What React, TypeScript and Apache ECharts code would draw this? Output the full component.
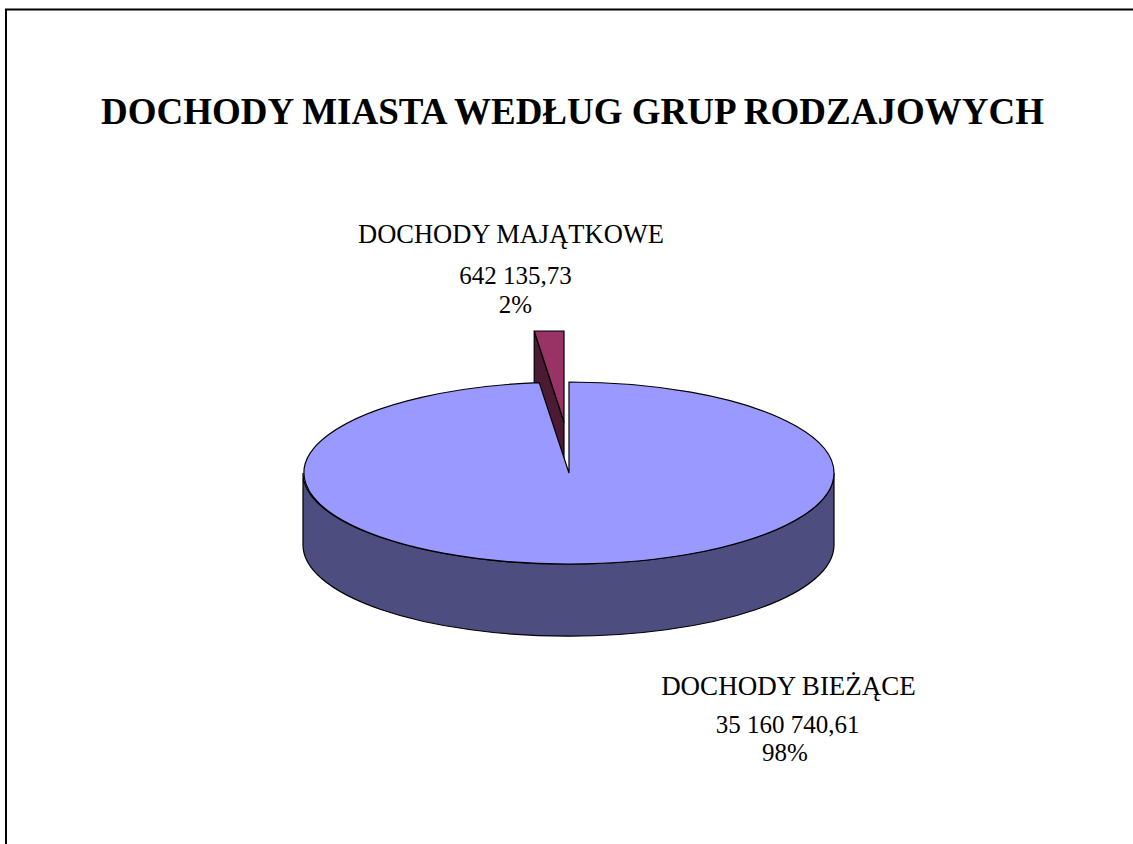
import React, { useEffect, useRef } from "react";
import * as echarts from "echarts";

const title = "DOCHODY MIASTA WEDŁUG GRUP RODZAJOWYCH";
const categories = ["DOCHODY MAJĄTKOWE", "DOCHODY BIEŻĄCE"];
const values = [642135.73, 35160740.61];
const valueLabels = ["642 135,73", "35 160 740,61"];
const percentLabels = ["2%", "98%"];

const CX = 569, CY = 473, RX = 265, RY = 91, DEPTH = 72;
const FONT = '"Liberation Serif", serif';
const topColors = ["#993366", "#9999FF"];
const sideColors = ["#4D1A33", "#4D4D80"];
const explode = [[-5, -51], [0, 0]];
const labelX = [
  [511, 515.5, 515.5],
  [788.5, 787.5, 785],
];
const labelY = [
  [234, 275, 304],
  [686, 724, 752],
];
const labelSize = [
  [26.5, 25, 25],
  [27, 25, 25],
];

const total = values.reduce((a, b) => a + b, 0);
const startAngle = (-360 * values[0]) / total;

function pt(cx: number, cy: number, deg: number) {
  const r = (deg * Math.PI) / 180;
  return [cx + RX * Math.sin(r), cy - RY * Math.cos(r)];
}

function renderItem(_params: any, api: any) {
  const i = api.value(0);
  const v = api.value(1);
  let a0 = startAngle;
  for (let k = 0; k < i; k++) a0 += (360 * values[k]) / total;
  const a1 = a0 + (360 * v) / total;
  const cx = CX + explode[i][0];
  const cy = CY + explode[i][1];
  const s = pt(cx, cy, a0);
  const e = pt(cx, cy, a1);
  const large = a1 - a0 > 180 ? 1 : 0;
  const children: any[] = [];
  const stroke = { stroke: "#000", lineWidth: 1.2 };
  if (large) {
    const path = `M${cx - RX - 1} ${cy}A${RX} ${RY} 0 0 0 ${cx + RX} ${cy}L${cx + RX} ${cy + DEPTH}A${RX} ${RY} 0 0 1 ${cx - RX - 1} ${cy + DEPTH}Z`;
    children.push({ type: "path", shape: { pathData: path }, style: { fill: sideColors[i], ...stroke } });
  } else {
    children.push({
      type: "polygon",
      shape: { points: [s, [cx, cy], [cx, cy + DEPTH], [s[0], s[1] + DEPTH]] },
      style: { fill: sideColors[i], ...stroke },
    });
  }
  const top = large
    ? `M${cx} ${cy}L${s[0]} ${s[1]}A${RX} ${RY} 0 1 1 ${e[0]} ${e[1]}Z`
    : `M${cx} ${cy}L${s[0]} ${e[1]}L${e[0]} ${e[1]}Z`;
  children.push({ type: "path", shape: { pathData: top }, style: { fill: topColors[i], ...stroke } });
  const lines = [categories[i], valueLabels[i], percentLabels[i]];
  lines.forEach((line, n) => {
    children.push({
      type: "text",
      style: {
        text: line, x: labelX[i][n], y: labelY[i][n], fill: "#000", align: "center", verticalAlign: "middle",
        font: `${labelSize[i][n]}px ${FONT}`,
      },
    });
  });
  return { type: "group", children };
}

export default function App() {
  const ref = useRef<HTMLDivElement>(null);
  useEffect(() => {
    const chart = echarts.init(ref.current!, undefined, { renderer: "svg" });
    chart.setOption({
      animation: false,
      backgroundColor: "#fff",
      title: {
        text: title,
        left: 567.5, top: 88, textAlign: "center",
        textStyle: { fontFamily: FONT, fontSize: 37, fontWeight: "bold", color: "#000" },
      },
      graphic: [
        { type: "line", shape: { x1: 5, y1: 9.5, x2: 1133, y2: 9.5 }, style: { stroke: "#000", lineWidth: 2 } },
        { type: "line", shape: { x1: 6, y1: 9, x2: 6, y2: 844 }, style: { stroke: "#000", lineWidth: 2 } },
      ],
      series: [
        {
          type: "custom",
          coordinateSystem: "none",
          renderItem,
          data: values.map((v, i) => [i, v]),
          silent: true,
        },
      ],
    });
    return () => chart.dispose();
  }, []);
  return <div ref={ref} style={{ position: "absolute", left: 0, top: 0, width: 1133, height: 844 }} />;
}
